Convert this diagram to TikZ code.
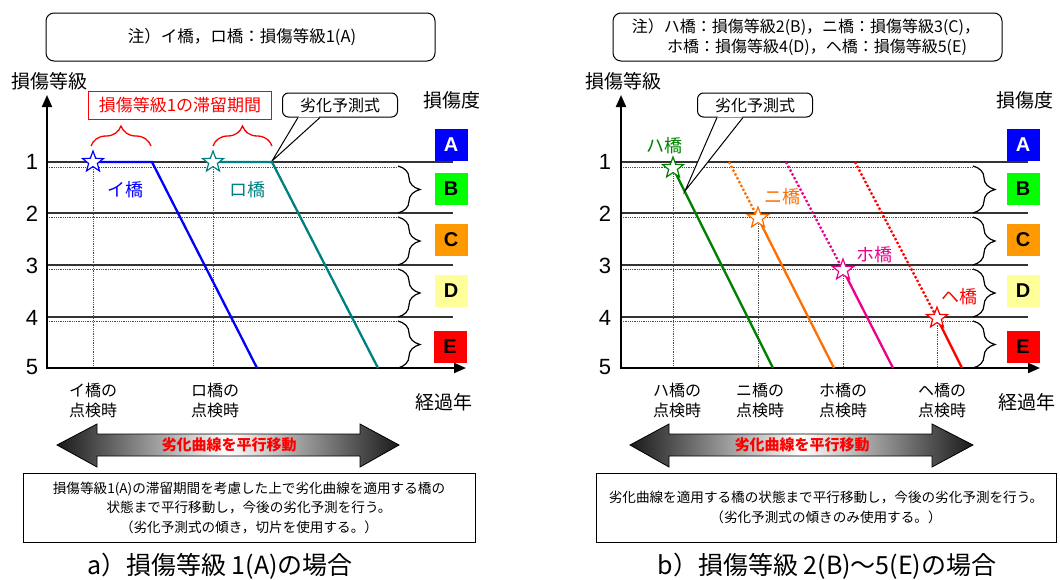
\documentclass[tikz,border=0pt]{standalone}
\usepackage{fontspec}
\setmainfont{Noto Sans CJK JP}
\newfontfamily\latin{Liberation Sans}
\usetikzlibrary{arrows.meta,shapes.geometric,decorations.pathreplacing,positioning}

\definecolor{tealA}{RGB}{0,128,128}
\definecolor{greenH}{RGB}{0,128,0}
\definecolor{orangeN}{RGB}{255,110,0}
\definecolor{gradeC}{RGB}{255,153,0}
\definecolor{gradeD}{RGB}{255,255,153}
\definecolor{gradeB}{RGB}{0,255,0}

\tikzset{
  lvl/.style={line width=1.2pt, black!80},
  sub/.style={densely dotted, line width=0.8pt, black!70},
  axis/.style={line width=2pt, -{Triangle[length=12pt,width=10pt]}},
  brc/.style={decorate, decoration={brace, amplitude=22pt}, line width=1.2pt},
  grade/.style={minimum width=33pt, minimum height=32pt, inner sep=0pt,
    font=\latin\bfseries\fontsize{20}{20}\selectfont},
  notebox/.style={draw, rounded corners=8pt, line width=1pt},
  callout/.style={draw, fill=white, rounded corners=6pt, line width=1pt,
    minimum width=115pt, minimum height=24pt, font=\fontsize{16}{18}\selectfont},
  bstar/.style={star, star points=5, star point ratio=2.4, draw=#1, fill=white,
    line width=1.2pt, minimum size=22pt, inner sep=0pt},
  bline/.style={line width=2.3pt, #1},
  bdots/.style={dotted, line width=2.3pt, #1},
  axlbl/.style={font=\fontsize{19}{21}\selectfont},
  numlbl/.style={font=\latin\fontsize{22}{22}\selectfont},
  xlbl/.style={align=center, font=\fontsize{16}{20}\selectfont},
  blbl/.style={font=\fontsize{18}{20}\selectfont},
  textbox/.style={draw, line width=1pt, align=center, font=\fontsize{13.6}{19.5}\selectfont},
  caption/.style={font=\fontsize{25}{27}\selectfont},
  bigarrow/.style={draw=black, line width=0.8pt, left color=black!90, right color=black!90, middle color=white},
  arrowtxt/.style={text=red, font=\bfseries\fontsize{15}{17}\selectfont}
}

\begin{document}
\begin{tikzpicture}[x=1pt,y=-1pt]
    \useasboundingbox (0,0) rectangle (1060,579);

    % ===== a) Damage grade 1 =====
    % Note
    \draw[notebox] (46,13) rectangle (435,61);
    \node[font=\fontsize{16.5}{18}\selectfont] (noteA) at (242,37) {注）イ橋，ロ橋：損傷等級1(A)};

    % Axis labels
    \node[axlbl] (ylblA) at (50,81) {損傷等級};
    \node[axlbl] (degA) at (452,100) {損傷度};
    \node[axlbl] (xlblA) at (444,402) {経過年};

    % Grade lines
    \foreach \y in {162,213,265,317} \draw[lvl] (47,\y) -- (453,\y);
    \foreach \y in {167,217,269,321} \draw[sub] (47,\y) -- (398,\y);
    \draw[sub] (93,167) -- (93,368);
    \draw[sub] (213,167) -- (213,368);

    % Axes
    \draw[axis] (47,369) -- (47,95);
    \draw[axis] (46,368) -- (466,368);

    % Grade numbers
    \node[numlbl] (a1) at (32,162) {1};
    \node[numlbl] (a2) at (32,214) {2};
    \node[numlbl] (a3) at (32,266) {3};
    \node[numlbl] (a4) at (32,318) {4};
    \node[numlbl] (a5) at (32,367) {5};

    % Braces and grades
    \draw[brc] (398,166) -- (398,213);
    \draw[brc] (398,217) -- (398,265);
    \draw[brc] (398,269) -- (398,317);
    \draw[brc] (398,321) -- (398,368);
    \node[grade, fill=blue, text=white] (gA) at (451,145) {A};
    \node[grade, fill=gradeB] (gB) at (451,189) {B};
    \node[grade, fill=gradeC] (gC) at (451,240) {C};
    \node[grade, fill=gradeD] (gD) at (451,291) {D};
    \node[grade, fill=red] (gE) at (450,347) {E};

    % Stay period
    \node[draw=red, line width=1pt, text=red, minimum width=183pt, minimum height=28pt,
      font=\fontsize{17}{19}\selectfont] (stay) at (180,105) {損傷等級1の滞留期間};
    \draw[brc, red, line width=1.3pt, decoration={amplitude=20pt}] (91,146) -- (151,146);
    \draw[brc, red, line width=1.3pt, decoration={amplitude=20pt}] (213,146) -- (272,146);

    % Forecast formula callout
    \node[callout] (fmA) at (340,105) {劣化予測式};
    \filldraw[fill=white, line width=1pt] ([xshift=-42pt]fmA.south) -- (272,161) -- ([xshift=-20pt]fmA.south);
    \draw[white, line width=1.5pt] ([xshift=-41pt,yshift=0.8pt]fmA.south) -- ([xshift=-21pt,yshift=0.8pt]fmA.south);

    % Bridge I
    \draw[bline=blue] (93,162) -- (152,162) -- (257,368);
    \node[bstar=blue] (sI) at (93,162) {};
    \node[blbl, text=blue] (lI) at (125,190) {イ橋};

    % Bridge Ro
    \draw[bline=tealA] (213,162) -- (272,162) -- (378,368);
    \node[bstar=tealA] (sRo) at (213,162) {};
    \node[blbl, text=tealA] (lRo) at (247,190) {ロ橋};

    % Inspection times
    \node[xlbl] (tI) at (93,400) {イ橋の\\点検時};
    \node[xlbl] (tRo) at (215,400) {ロ橋の\\点検時};

    % Shift arrow
    \path[bigarrow] (57,445) -- (97,424) -- (97,434) -- (360,434) -- (360,424) -- (399,445)
      -- (360,467) -- (360,456) -- (97,456) -- (97,467) -- cycle;
    \node[arrowtxt] (shA) at (229,445) {劣化曲線を平行移動};

    % Explanation
    \node[textbox, minimum width=452pt, minimum height=69pt] (expA) at (249,507.5)
      {損傷等級1(A)の滞留期間を考慮した上で劣化曲線を適用する橋の\\
       状態まで平行移動し，今後の劣化予測を行う。\\
       （劣化予測式の傾き，切片を使用する。）};
    \node[caption] (capA) at (220,566) {a）損傷等級 1(A)の場合};

    % ===== b) Damage grades 2-5 =====
    % Note
    \draw[notebox] (613,13) rectangle (1002,61);
    \node[font=\fontsize{16}{20}\selectfont, align=left] (noteB) at (806,37)
      {注）ハ橋：損傷等級2(B)，ニ橋：損傷等級3(C)，\\
       \hspace*{2.2em}ホ橋：損傷等級4(D)，ヘ橋：損傷等級5(E)};

    % Axis labels
    \node[axlbl] (ylblB) at (623,81) {損傷等級};
    \node[axlbl] (degB) at (1025,100) {損傷度};
    \node[axlbl] (xlblB) at (1027,402) {経過年};

    % Grade lines
    \foreach \y in {162,213,265,317} \draw[lvl] (621,\y) -- (1028,\y);
    \foreach \y in {167,217,269,321} \draw[sub] (621,\y) -- (973,\y);
    \draw[sub] (673,167) -- (673,368);
    \draw[sub] (758,217) -- (758,368);
    \draw[sub] (843,269) -- (843,368);
    \draw[sub] (937,321) -- (937,368);

    % Axes
    \draw[axis] (621,369) -- (621,95);
    \draw[axis] (620,368) -- (1040,368);

    % Grade numbers
    \node[numlbl] (b1) at (605,162) {1};
    \node[numlbl] (b2) at (605,214) {2};
    \node[numlbl] (b3) at (605,266) {3};
    \node[numlbl] (b4) at (605,318) {4};
    \node[numlbl] (b5) at (605,367) {5};

    % Braces and grades
    \draw[brc] (973,166) -- (973,213);
    \draw[brc] (973,217) -- (973,265);
    \draw[brc] (973,269) -- (973,317);
    \draw[brc] (973,321) -- (973,368);
    \node[grade, fill=blue, text=white] (hA) at (1023,145) {A};
    \node[grade, fill=gradeB] (hB) at (1023,189) {B};
    \node[grade, fill=gradeC] (hC) at (1023,240) {C};
    \node[grade, fill=gradeD] (hD) at (1023,291) {D};
    \node[grade, fill=red] (hE) at (1023,347) {E};

    % Bridge Ha
    \draw[bline=greenH] (673,168) -- (773,368);
    % Bridge Ni
    \draw[bdots=orangeN] (729,162) -- (758,218);
    \draw[bline=orangeN] (758,218) -- (834,368);
    % Bridge Ho
    \draw[bdots=magenta] (786,162) -- (843,270);
    \draw[bline=magenta] (843,270) -- (893,368);
    % Bridge He
    \draw[bdots=red] (855,162) -- (937,318);
    \draw[bline=red] (937,318) -- (962,368);

    % Forecast formula callout
    \node[callout] (fmB) at (755,105) {劣化予測式};
    \filldraw[fill=white, line width=1pt] ([xshift=-38pt]fmB.south) -- (685,191) -- ([xshift=-12pt]fmB.south);
    \draw[white, line width=1.5pt] ([xshift=-37pt,yshift=0.8pt]fmB.south) -- ([xshift=-13pt,yshift=0.8pt]fmB.south);

    % Stars and labels
    \node[bstar=greenH] (sHa) at (673,168) {};
    \node[bstar=orangeN] (sNi) at (758,218) {};
    \node[bstar=magenta] (sHo) at (843,270) {};
    \node[bstar=red] (sHe) at (937,318) {};
    \node[blbl, text=greenH] (lHa) at (664,146) {ハ橋};
    \node[blbl, text=orangeN] (lNi) at (782,197) {ニ橋};
    \node[blbl, text=magenta] (lHo) at (874,255) {ホ橋};
    \node[blbl, text=red] (lHe) at (959,297) {ヘ橋};

    % Inspection times
    \node[xlbl] (tHa) at (677,400) {ハ橋の\\点検時};
    \node[xlbl] (tNi) at (760,400) {ニ橋の\\点検時};
    \node[xlbl] (tHo) at (843,400) {ホ橋の\\点検時};
    \node[xlbl] (tHe) at (942,400) {ヘ橋の\\点検時};

    % Shift arrow
    \path[bigarrow] (630,445) -- (669,424) -- (669,434) -- (932,434) -- (932,424) -- (973,445)
      -- (932,467) -- (932,456) -- (669,456) -- (669,467) -- cycle;
    \node[arrowtxt] (shB) at (802,445) {劣化曲線を平行移動};

    % Explanation
    \node[textbox, minimum width=460pt, minimum height=69pt] (expB) at (826,507.5)
      {劣化曲線を適用する橋の状態まで平行移動し，今後の劣化予測を行う。\\
       （劣化予測式の傾きのみ使用する。）};
    \node[caption] (capB) at (827,566) {b）損傷等級 2(B)～5(E)の場合};
\end{tikzpicture}
\end{document}
